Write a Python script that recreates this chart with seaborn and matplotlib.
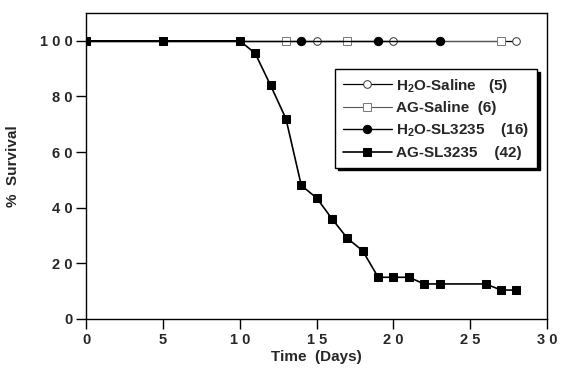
import numpy as np
import pandas as pd
import matplotlib
matplotlib.use("Agg")
import matplotlib.pyplot as plt
import seaborn as sns

# dados (dias, % sobrevivência)
dias_h2o_saline = [0, 15, 20, 28]
surv_h2o_saline = [100, 100, 100, 100]

dias_ag_saline = [0, 13, 17, 27]
surv_ag_saline = [100, 100, 100, 100]

dias_h2o_sl = [0, 14, 19, 23]
surv_h2o_sl = [100, 100, 100, 100]

dias_ag_sl = [0, 5, 10, 11, 12, 13, 14, 15, 16, 17, 18, 19, 20, 21, 22, 23, 26, 27, 28]
surv_ag_sl = [100, 100, 100, 95.5, 84, 72, 48, 43.5, 36, 29, 24.5, 15, 15, 15, 12.6, 12.6, 12.6, 10.4, 10.4]

x_ticks = [0, 5, 10, 15, 20, 25, 30]
x_labels = ["0", "5", "1 0", "1 5", "2 0", "2 5", "3 0"]
y_ticks = [0, 20, 40, 60, 80, 100]
y_labels = ["0", "2 0", "4 0", "6 0", "8 0", "1 0 0"]

sns.set_theme(style="ticks")
plt.rcParams['font.family'] = ['Liberation Sans', 'DejaVu Sans']
plt.rcParams['mathtext.fontset'] = 'custom'
plt.rcParams['mathtext.rm'] = 'Liberation Sans:bold'
plt.rcParams['mathtext.bf'] = 'Liberation Sans:bold'

fig = plt.figure(figsize=(5.67, 3.72), dpi=100)
ax = fig.add_axes([0.152, 0.1425, 0.813, 0.8225])

# linhas
sns.lineplot(x=dias_ag_sl, y=surv_ag_sl, ax=ax, color="black", lw=1.2,
             marker="s", markersize=5.5, markeredgecolor="black",
             label="AG-SL3235    (42)", zorder=3)
sns.lineplot(x=dias_h2o_saline, y=surv_h2o_saline, ax=ax, color="black", lw=0.9,
             marker="o", markersize=5.5, markerfacecolor="white", markeredgecolor="#333333",
             markeredgewidth=0.7, markevery=slice(1, None),
             label="H$_2$O-Saline   (5)", zorder=2)
sns.lineplot(x=dias_ag_saline, y=surv_ag_saline, ax=ax, color="#555555", lw=0.8,
             marker="s", markersize=5.5, markerfacecolor="white", markeredgecolor="#777777",
             markeredgewidth=0.7, markevery=slice(1, None),
             label="AG-Saline  (6)", zorder=2)
sns.lineplot(x=dias_h2o_sl, y=surv_h2o_sl, ax=ax, color="black", lw=1.0,
             marker="o", markersize=6, markerfacecolor="black", markeredgecolor="black",
             markevery=slice(1, None),
             label="H$_2$O-SL3235    (16)", zorder=3)

ax.set_xlim(0, 30)
ax.set_ylim(0, 110)
ax.set_xticks(x_ticks)
ax.set_xticklabels(x_labels, fontsize=10.5, fontweight="bold")
ax.set_yticks(y_ticks)
ax.set_yticklabels(y_labels, fontsize=10.5, fontweight="bold")
ax.tick_params(direction="out", length=7, width=1, color="black", pad=3)
for s in ax.spines.values():
    s.set_visible(True)
    s.set_color("black")
    s.set_linewidth(1)
ax.set_xlabel("Time  (Days)", fontsize=11, fontweight="bold", labelpad=2)
ax.set_ylabel("%  Survival", fontsize=11, fontweight="bold", labelpad=14)

# legenda na ordem do original
handles, labels = ax.get_legend_handles_labels()
ordem = [1, 2, 3, 0]
leg = ax.legend([handles[i] for i in ordem], [labels[i] for i in ordem],
                loc="upper left", bbox_to_anchor=(0.54, 0.817),
                frameon=True, fancybox=False, shadow={'color': 'black', 'alpha': 1},
                numpoints=1, handlelength=3.2, handletextpad=0.3, borderpad=0.5,
                labelspacing=0.42, prop={'weight': 'bold', 'size': 11},
                borderaxespad=0)
leg.get_frame().set_edgecolor("black")
leg.get_frame().set_linewidth(1)
leg.get_frame().set_alpha(1)
for h in leg.legend_handles:
    h.set_markevery([1])

fig.savefig("out.png", dpi=100, facecolor="white")
